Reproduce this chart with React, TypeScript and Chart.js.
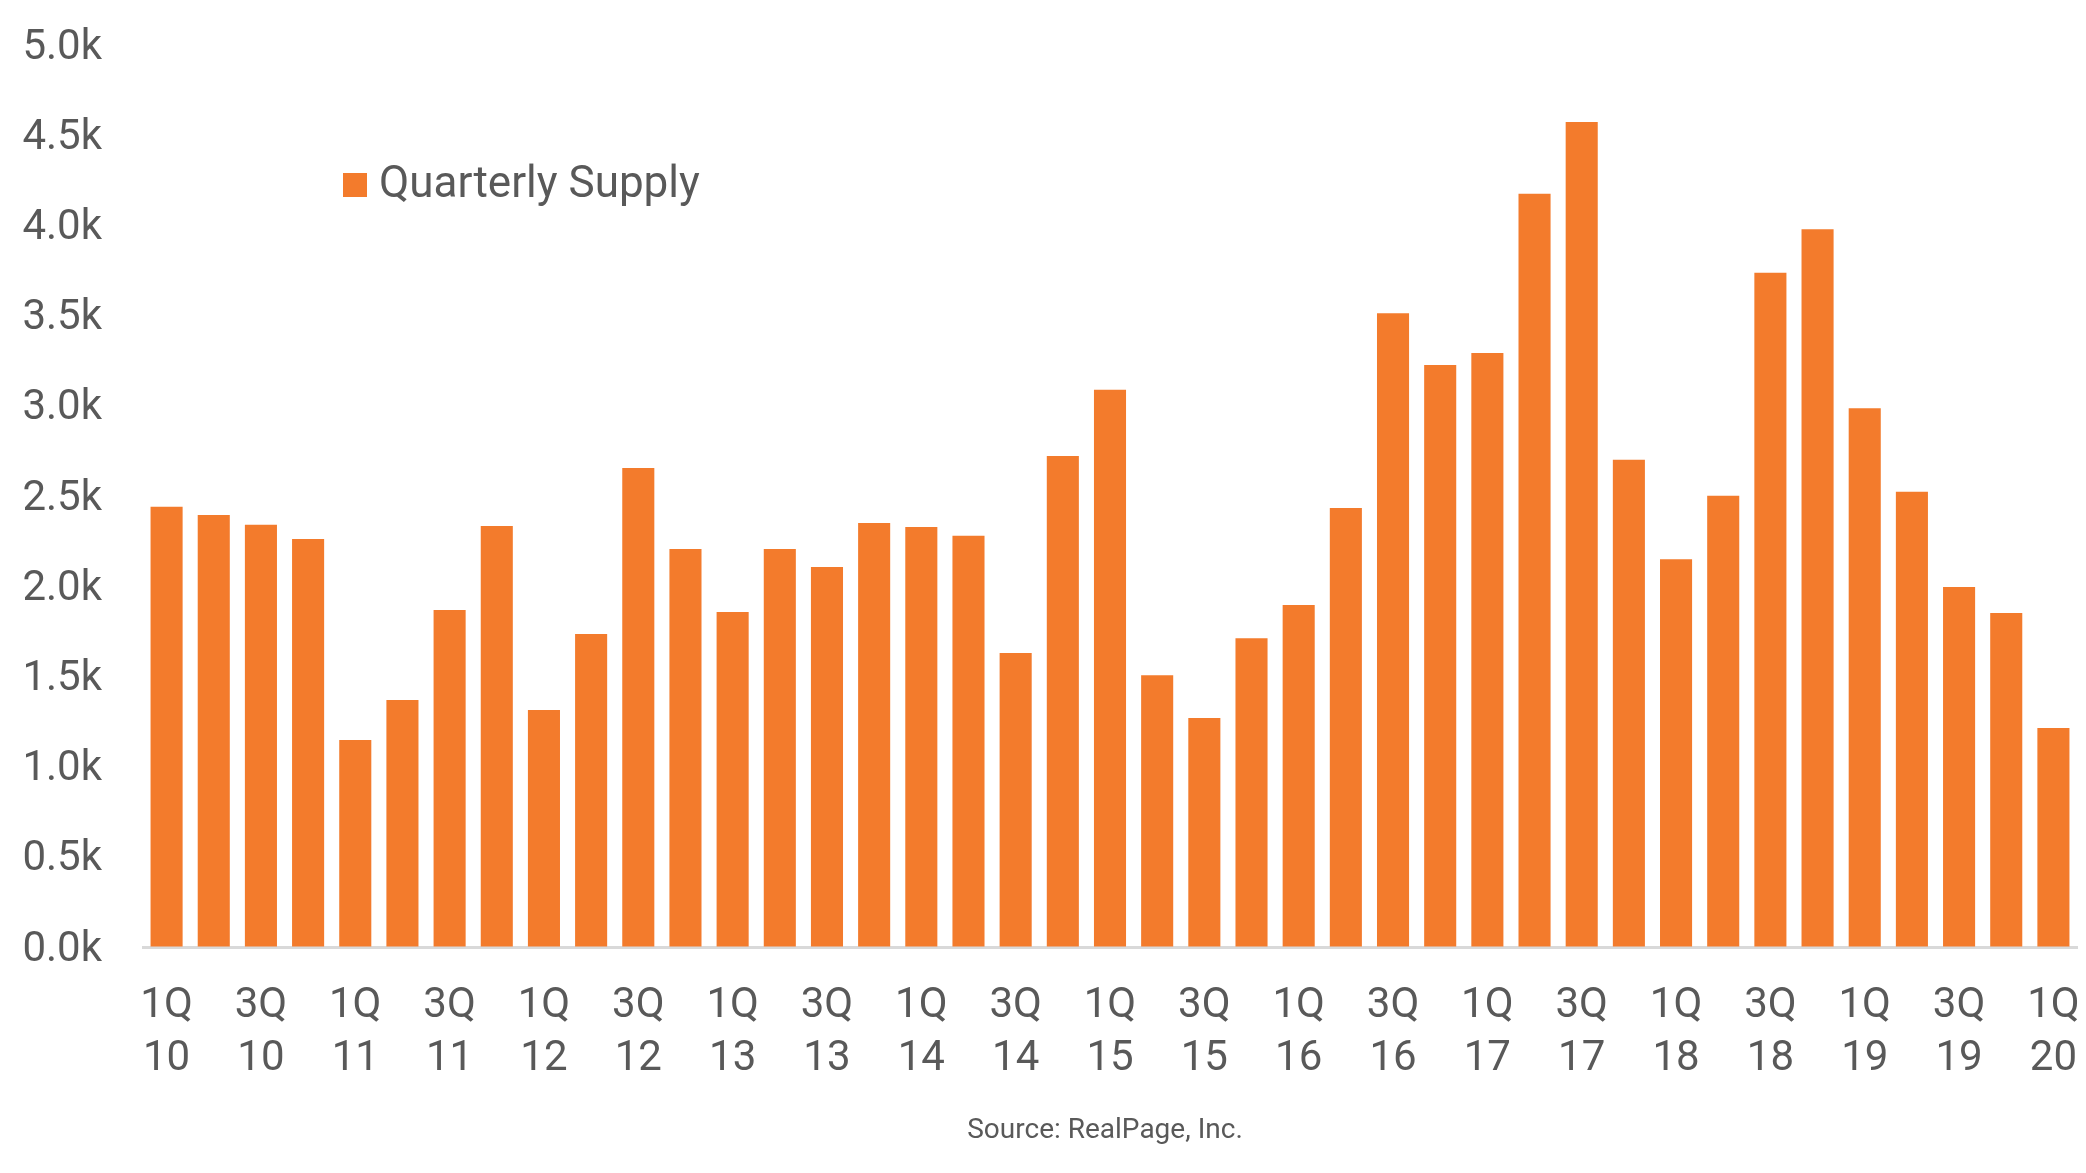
import React, { useEffect, useRef } from "react";
import { Chart, registerables } from "chart.js";

Chart.register(...registerables);

const quarters = [
  "1Q10", "2Q10", "3Q10", "4Q10",
  "1Q11", "2Q11", "3Q11", "4Q11",
  "1Q12", "2Q12", "3Q12", "4Q12",
  "1Q13", "2Q13", "3Q13", "4Q13",
  "1Q14", "2Q14", "3Q14", "4Q14",
  "1Q15", "2Q15", "3Q15", "4Q15",
  "1Q16", "2Q16", "3Q16", "4Q16",
  "1Q17", "2Q17", "3Q17", "4Q17",
  "1Q18", "2Q18", "3Q18", "4Q18",
  "1Q19", "2Q19", "3Q19", "4Q19",
  "1Q20",
];

const quarterlySupply = [
  2440, 2395, 2340, 2262,
  1147, 1369, 1868, 2334,
  1314, 1735, 2655, 2206,
  1857, 2206, 2106, 2351,
  2328, 2279, 1630, 2722,
  3089, 1507, 1269, 1712,
  1896, 2433, 3513, 3226,
  3292, 4175, 4573, 2701,
  2150, 2502, 3737, 3979,
  2987, 2523, 1995, 1851,
  1214,
];

const yTickLabels = ["0.0k", "0.5k", "1.0k", "1.5k", "2.0k", "2.5k", "3.0k", "3.5k", "4.0k", "4.5k", "5.0k"];

const xTickLabels = quarters.map((q, i) => (i % 2 === 0 ? [q.slice(0, 2), q.slice(2)] : ""));

const seriesLabel = "Quarterly Supply";
const sourceText = "Source: RealPage, Inc.";

const W = 2086;
const H = 1173;
const TEXT = "#595959";
const ORANGE = "#F37B2C";
const FONT = "Roboto";

const overlayPlugin = {
  id: "overlay",
  afterDraw(chart: any) {
    const ctx = chart.ctx;
    const area = chart.chartArea;
    const ds = chart.data.datasets[0];
    ctx.save();
    // legend
    const bx = area.left + 200;
    const by = area.top + 128;
    ctx.fillStyle = ds.backgroundColor;
    ctx.fillRect(bx, by, 24, 24);
    ctx.fillStyle = TEXT;
    ctx.font = `44px ${FONT}`;
    ctx.textAlign = "left";
    ctx.textBaseline = "middle";
    ctx.fillText(ds.label, bx + 36, by + 13);
    // source
    ctx.font = `28px ${FONT}`;
    ctx.textAlign = "center";
    ctx.fillText(sourceText, (area.left + area.right) / 2 - 5, 1131);
    ctx.restore();
  },
};

export default function App() {
  const ref = useRef<HTMLCanvasElement | null>(null);

  useEffect(() => {
    if (!ref.current) return;
    const chart = new Chart(ref.current, {
      type: "bar",
      data: {
        labels: quarters,
        datasets: [
          {
            label: seriesLabel,
            data: quarterlySupply,
            backgroundColor: ORANGE,
            borderWidth: 0,
            categoryPercentage: 0.8,
            barPercentage: 0.85,
          },
        ],
      },
      options: {
        responsive: false,
        maintainAspectRatio: false,
        animation: false,
        layout: { padding: { left: 0, right: 9, top: 45, bottom: 0 } },
        plugins: {
          legend: { display: false },
          tooltip: { enabled: false },
          title: { display: false },
        },
        scales: {
          x: {
            grid: {
              display: true,
              drawOnChartArea: false,
              drawTicks: true,
              tickLength: 33,
              tickColor: "rgba(0,0,0,0)",
            },
            border: { display: true, color: "#D9D9D9", width: 3 },
            afterFit: (scale: any) => {
              scale.height = H - 947;
            },
            ticks: {
              autoSkip: false,
              maxRotation: 0,
              minRotation: 0,
              padding: 0,
              color: TEXT,
              font: { family: FONT, size: 42, lineHeight: 53 / 42 },
              callback: (_v: any, i: number) => xTickLabels[i],
            },
          },
          y: {
            min: 0,
            max: 5000,
            grid: {
              display: true,
              drawOnChartArea: false,
              drawTicks: true,
              tickLength: 41,
              tickColor: "rgba(0,0,0,0)",
            },
            border: { display: false },
            afterFit: (scale: any) => {
              scale.width = 143;
            },
            ticks: {
              stepSize: 500,
              padding: 0,
              labelOffset: 3,
              color: TEXT,
              font: { family: FONT, size: 42 },
              callback: (_v: any, i: number) => yTickLabels[i],
            },
          },
        },
      },
      plugins: [overlayPlugin],
    });
    return () => chart.destroy();
  }, []);

  return (
    <div style={{ position: "absolute", left: 0, top: 0, width: W, height: H, background: "#fff" }}>
      <canvas ref={ref} width={W} height={H} style={{ width: W, height: H, display: "block" }} />
    </div>
  );
}
